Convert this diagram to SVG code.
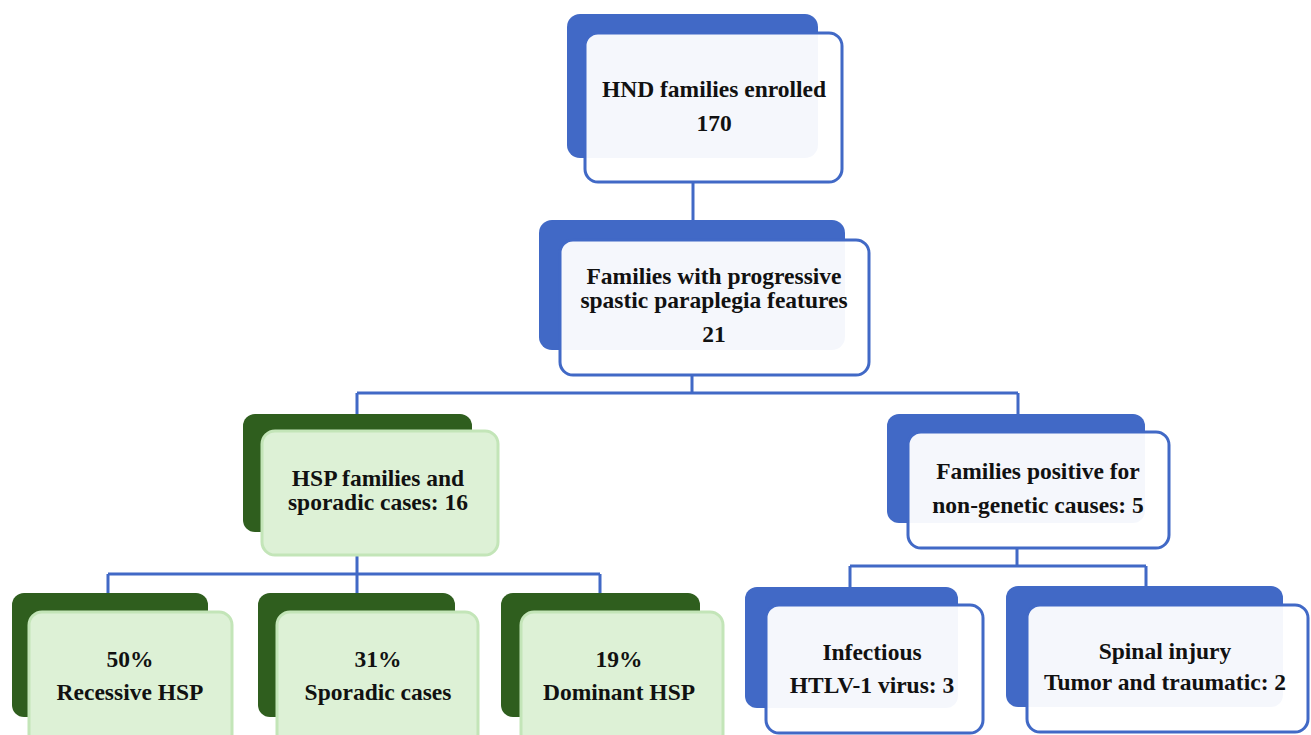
<svg xmlns="http://www.w3.org/2000/svg" width="1311" height="735" viewBox="0 0 1311 735">
<style>
.bb{fill:#4169C6}
.bf{fill:#fff;fill-opacity:0.95;stroke:#4169C6;stroke-width:3}
.gb{fill:#2F5E1E}
.gf{fill:#DDF1D6;stroke:#C3E5B8;stroke-width:3}
.t{font-family:'Liberation Serif','DejaVu Serif',serif;font-weight:bold;font-size:23.5px;fill:#111;text-anchor:middle}
.c{stroke:#4169C6;stroke-width:3;fill:none}
</style>
<rect width="1311" height="735" fill="#fff"/>
<g id="connectors">
<path class="c" d="M693 182V220"/>
<path class="c" d="M692 375V393M357 393H1018M357 393V415M1018 393V415"/>
<path class="c" d="M357 555V574M108 574H600M108 574V594M357 574V594M600 574V594"/>
<path class="c" d="M1017 548V566M850 566H1146M850 566V587M1146 566V587"/>
</g>
<g id="n1">
<rect class="bb" x="567" y="14" width="251" height="144" rx="13"/>
<rect class="bf" x="585" y="33" width="257" height="149" rx="13"/>
<text class="t" x="714" y="97">HND families enrolled</text>
<text class="t" x="714" y="131">170</text>
</g>
<g id="n2">
<rect class="bb" x="539" y="220" width="306" height="130" rx="13"/>
<rect class="bf" x="560" y="240" width="309" height="135" rx="13"/>
<text class="t" x="714" y="284">Families with progressive</text>
<text class="t" x="714" y="308">spastic paraplegia features</text>
<text class="t" x="714" y="342">21</text>
</g>
<g id="n3">
<rect class="gb" x="243" y="414" width="229" height="118" rx="12"/>
<rect class="gf" x="262" y="431" width="236" height="124" rx="13"/>
<text class="t" x="378" y="486">HSP families and</text>
<text class="t" x="378" y="510">sporadic cases: 16</text>
</g>
<g id="n4">
<rect class="bb" x="887" y="414" width="258" height="109" rx="12"/>
<rect class="bf" x="908" y="432" width="261" height="116" rx="13"/>
<text class="t" x="1038" y="479">Families positive for</text>
<text class="t" x="1038" y="513">non-genetic causes: 5</text>
</g>
<g id="n5">
<rect class="gb" x="12" y="593" width="196" height="124" rx="12"/>
<rect class="gf" x="29" y="612" width="203" height="135" rx="13"/>
<text class="t" x="130" y="667">50%</text>
<text class="t" x="130" y="700">Recessive HSP</text>
</g>
<g id="n6">
<rect class="gb" x="258" y="593" width="197" height="124" rx="12"/>
<rect class="gf" x="277" y="612" width="201" height="135" rx="13"/>
<text class="t" x="378" y="667">31%</text>
<text class="t" x="378" y="700">Sporadic cases</text>
</g>
<g id="n7">
<rect class="gb" x="501" y="593" width="199" height="124" rx="12"/>
<rect class="gf" x="521" y="612" width="202" height="135" rx="13"/>
<text class="t" x="619" y="667">19%</text>
<text class="t" x="619" y="700">Dominant HSP</text>
</g>
<g id="n8">
<rect class="bb" x="745" y="587" width="213" height="121" rx="12"/>
<rect class="bf" x="766" y="605" width="217" height="128" rx="13"/>
<text class="t" x="872" y="660">Infectious</text>
<text class="t" x="872" y="693">HTLV-1 virus: 3</text>
</g>
<g id="n9">
<rect class="bb" x="1006" y="586" width="277" height="121" rx="12"/>
<rect class="bf" x="1027" y="605" width="281" height="127" rx="13"/>
<text class="t" x="1165" y="659">Spinal injury</text>
<text class="t" x="1165" y="690">Tumor and traumatic: 2</text>
</g>
</svg>
